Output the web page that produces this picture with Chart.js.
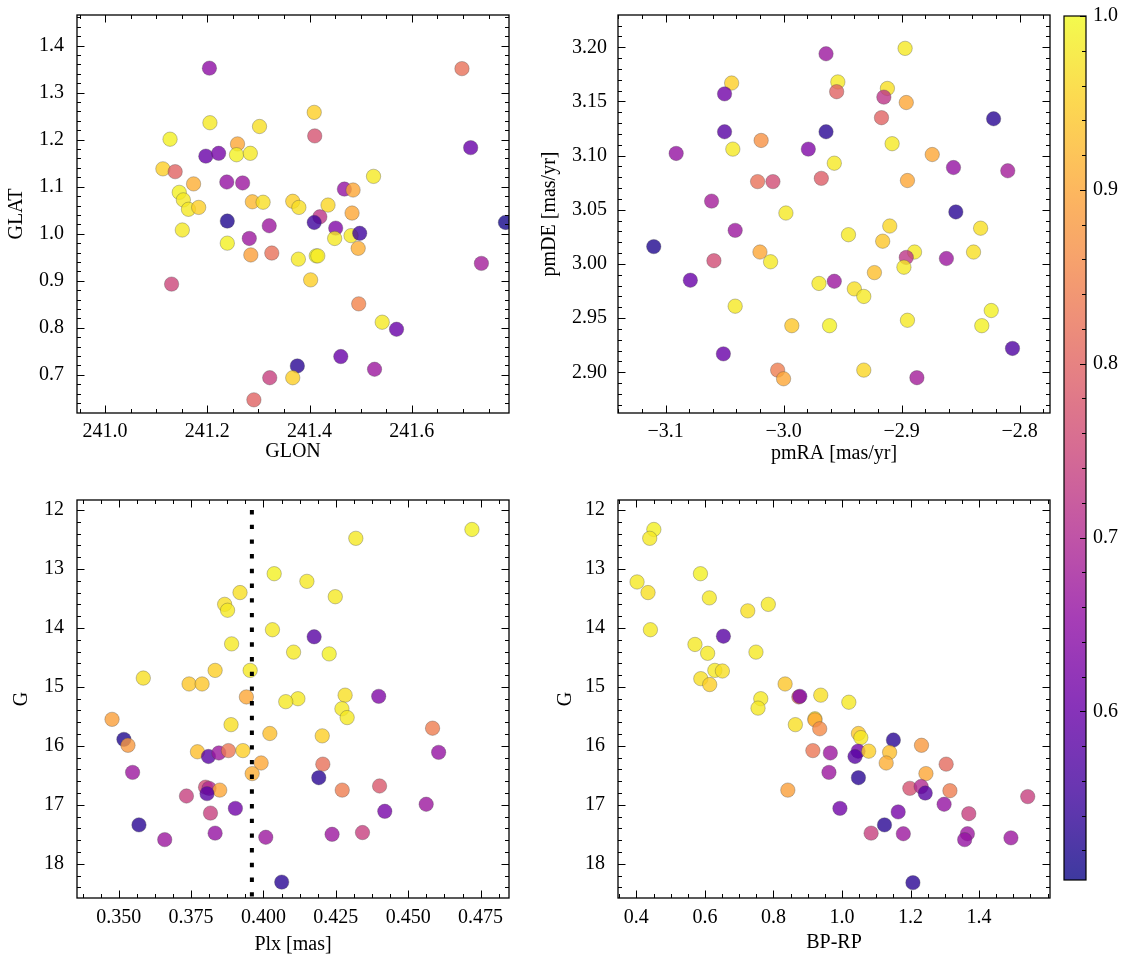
<!DOCTYPE html>
<html><head><meta charset="utf-8">
<script src="https://cdn.jsdelivr.net/npm/chart.js@4.4.1/dist/chart.umd.min.js"></script>
<style>
html,body{margin:0;padding:0;background:#fff;}
#wrap{position:relative;width:1133px;height:965px;background:#fff;}
canvas{position:absolute;}
</style></head><body>
<div id="wrap">
<canvas id="c1" width="520" height="470" style="left:0;top:0"></canvas>
<canvas id="c2" width="540" height="470" style="left:520px;top:0"></canvas>
<canvas id="c3" width="520" height="485" style="left:0;top:480px"></canvas>
<canvas id="c4" width="540" height="485" style="left:520px;top:480px"></canvas>
<canvas id="cb" width="93" height="965" style="left:1040px;top:0"></canvas>
</div>
<script>
// ---------- Panel 1: GLON / GLAT ----------
const glon = [241.204,241.698,241.409,241.205,241.302,241.127,241.410,241.715,241.259,241.197,241.222,241.257,241.284,241.113,241.137,241.525,241.238,241.269,241.173,241.145,241.153,241.468,241.485,241.163,241.183,241.288,241.309,241.367,241.379,241.436,241.483,241.420,241.239,241.409,241.783,241.151,241.321,241.451,241.449,241.481,241.498,241.282,241.239,241.495,241.285,241.326,241.378,241.413,241.416,241.402,241.736,241.130,241.496,241.542,241.570,241.461,241.376,241.527,241.322,241.367,241.291];
const glat = [1.352,1.351,1.258,1.236,1.228,1.201,1.208,1.183,1.191,1.165,1.171,1.168,1.171,1.138,1.132,1.122,1.110,1.108,1.106,1.088,1.072,1.095,1.093,1.052,1.056,1.068,1.067,1.069,1.056,1.061,1.044,1.036,1.027,1.024,1.024,1.008,1.017,1.012,0.990,0.996,1.001,0.990,0.980,0.969,0.955,0.959,0.946,0.953,0.953,0.902,0.937,0.893,0.851,0.812,0.797,0.739,0.719,0.712,0.694,0.694,0.647];
const prob1 = [0.65,0.82,0.95,0.98,0.97,0.99,0.77,0.60,0.90,0.60,0.62,0.99,0.98,0.95,0.80,0.98,0.66,0.67,0.91,0.99,0.98,0.66,0.90,0.98,0.95,0.92,0.97,0.95,0.97,0.96,0.90,0.72,0.52,0.55,0.51,0.98,0.67,0.63,0.98,0.98,0.55,0.67,0.99,0.91,0.89,0.82,0.98,1.00,0.98,0.95,0.68,0.75,0.85,0.98,0.60,0.60,0.53,0.67,0.74,0.95,0.80];

// ---------- Panel 2: pmRA / pmDE ----------
const pmra = [-2.897,-2.964,-3.044,-2.954,-2.912,-3.050,-2.955,-2.915,-2.896,-2.917,-2.822,-3.050,-2.964,-3.019,-2.908,-3.043,-2.979,-3.091,-2.874,-2.957,-2.856,-2.810,-3.022,-3.009,-2.968,-2.895,-3.061,-2.998,-2.854,-2.833,-2.910,-3.041,-2.945,-2.916,-3.110,-3.020,-2.889,-2.839,-2.896,-3.011,-3.059,-2.862,-2.898,-2.923,-3.079,-2.970,-2.957,-2.940,-2.932,-3.041,-2.824,-2.993,-2.961,-2.895,-2.832,-3.051,-2.806,-3.005,-3.000,-2.932,-2.887];
const pmde = [3.199,3.194,3.167,3.168,3.162,3.157,3.159,3.154,3.149,3.135,3.134,3.122,3.122,3.114,3.111,3.106,3.106,3.102,3.101,3.093,3.089,3.086,3.076,3.076,3.079,3.077,3.058,3.047,3.048,3.033,3.035,3.031,3.027,3.021,3.016,3.011,3.011,3.011,3.006,3.002,3.003,3.005,2.997,2.992,2.985,2.982,2.984,2.977,2.970,2.961,2.957,2.943,2.943,2.948,2.943,2.917,2.922,2.902,2.894,2.902,2.895];
const prob2 = [0.98,0.67,0.95,0.98,0.97,0.61,0.80,0.72,0.90,0.80,0.53,0.58,0.53,0.87,0.98,0.98,0.63,0.66,0.90,0.98,0.66,0.68,0.82,0.76,0.79,0.90,0.68,0.98,0.53,0.97,0.96,0.67,0.98,0.94,0.52,0.90,0.98,0.97,0.72,0.98,0.76,0.67,0.98,0.93,0.60,0.98,0.67,0.97,0.98,0.98,0.99,0.94,0.99,0.98,0.99,0.60,0.57,0.84,0.90,0.96,0.68];

// ---------- Panel 3: Plx / G ----------
const plx = [0.4720,0.4319,0.4037,0.4150,0.3919,0.4248,0.3866,0.3876,0.4031,0.4175,0.3890,0.4104,0.4227,0.3833,0.3954,0.3585,0.3743,0.3788,0.4282,0.4398,0.3941,0.4119,0.4077,0.4271,0.4289,0.3477,0.3888,0.4584,0.4022,0.4203,0.3518,0.3532,0.3772,0.3810,0.3846,0.3879,0.3929,0.4605,0.3992,0.4205,0.3548,0.3961,0.4191,0.4401,0.3800,0.3812,0.3849,0.4272,0.3805,0.3734,0.4562,0.3903,0.4419,0.3817,0.3570,0.3833,0.4342,0.4237,0.3659,0.4008,0.4063];
const gPlx = [12.33,12.48,13.08,13.21,13.40,13.47,13.60,13.70,14.03,14.15,14.27,14.41,14.44,14.72,14.72,14.85,14.95,14.95,15.14,15.16,15.17,15.20,15.25,15.37,15.52,15.55,15.64,15.70,15.79,15.83,15.89,15.99,16.10,16.18,16.12,16.08,16.08,16.11,16.29,16.31,16.45,16.47,16.54,16.68,16.70,16.72,16.75,16.75,16.81,16.85,16.99,17.06,17.11,17.14,17.34,17.48,17.47,17.50,17.59,17.55,18.31];
const prob3 = [0.99,0.98,0.99,0.98,0.97,0.98,0.97,0.98,0.98,0.58,0.98,0.98,0.99,0.95,0.98,0.97,0.94,0.94,0.97,0.63,0.90,0.98,0.98,0.98,0.98,0.89,0.97,0.84,0.93,0.95,0.52,0.88,0.93,0.58,0.67,0.83,0.95,0.66,0.90,0.82,0.67,0.91,0.53,0.78,0.76,0.70,0.90,0.84,0.58,0.74,0.67,0.61,0.62,0.74,0.53,0.66,0.74,0.67,0.67,0.67,0.53];
const plxCut = 0.396;

// ---------- Panel 4: BP-RP / G ----------
const bprp = [0.451,0.439,0.402,0.587,0.434,0.613,0.785,0.725,0.441,0.654,0.571,0.608,0.749,0.629,0.651,0.588,0.614,0.834,0.763,0.755,0.874,0.877,0.938,1.020,0.864,0.921,0.921,0.935,1.048,1.055,1.150,0.915,0.966,1.047,1.038,1.078,1.139,1.129,1.232,1.304,0.962,1.048,1.245,0.842,1.198,1.231,1.243,1.315,1.542,0.994,1.298,1.164,1.370,1.124,1.085,1.179,1.366,1.358,1.493,1.207];
const gCol = [12.33,12.48,13.22,13.08,13.40,13.49,13.60,13.71,14.03,14.14,14.28,14.43,14.41,14.72,14.73,14.86,14.96,14.95,15.20,15.36,15.17,15.16,15.14,15.26,15.64,15.54,15.56,15.71,15.79,15.86,15.90,16.08,16.12,16.09,16.18,16.09,16.11,16.29,15.99,16.31,16.45,16.54,16.47,16.75,16.72,16.69,16.80,16.76,16.86,17.06,16.99,17.12,17.15,17.34,17.48,17.49,17.49,17.59,17.56,18.32];
const prob4 = [0.99,0.98,0.98,0.99,0.97,0.98,0.98,0.97,0.98,0.58,0.98,0.98,0.98,0.98,0.97,0.97,0.95,0.94,0.98,0.98,0.82,0.63,0.97,0.98,0.97,0.97,0.90,0.86,0.94,0.98,0.53,0.83,0.67,0.61,0.58,0.95,0.93,0.91,0.88,0.81,0.67,0.53,0.90,0.89,0.77,0.70,0.58,0.84,0.74,0.61,0.66,0.62,0.74,0.53,0.74,0.67,0.67,0.66,0.67,0.53];

// ---------- Tick labels ----------
const glonTicks = [241.0,241.2,241.4,241.6];
const glatTicks = [0.7,0.8,0.9,1.0,1.1,1.2,1.3,1.4];
const pmraTicks = [-3.1,-3.0,-2.9,-2.8];
const pmdeTicks = [2.90,2.95,3.00,3.05,3.10,3.15,3.20];
const plxTicks = [0.350,0.375,0.400,0.425,0.450,0.475];
const gTicks = [12,13,14,15,16,17,18];
const bprpTicks = [0.4,0.6,0.8,1.0,1.2,1.4];
const cbarTicks = [0.6,0.7,0.8,0.9,1.0];
const cMin = 0.503, cMax = 1.0;

// ---------- colormap (plasma) ----------
const plasma = [[13,8,135],[65,4,157],[106,0,168],[143,13,164],[177,42,144],[204,71,120],[225,100,98],[242,132,75],[252,166,54],[252,206,37],[240,249,33]];
function cmap(v, a){
  let t = (v - cMin)/(cMax - cMin); t = Math.max(0, Math.min(1, t));
  const f = t*10, i = Math.min(9, Math.floor(f)), u = f - i;
  const c0 = plasma[i], c1 = plasma[i+1];
  const r = Math.round(c0[0]+(c1[0]-c0[0])*u), g = Math.round(c0[1]+(c1[1]-c0[1])*u), b = Math.round(c0[2]+(c1[2]-c0[2])*u);
  return `rgba(${r},${g},${b},${a})`;
}

const FONT = "'Liberation Serif', 'Times New Roman', serif";
Chart.defaults.font.family = FONT;
Chart.defaults.font.size = 20;
Chart.defaults.color = '#000';
Chart.defaults.animation = false;

function fmt(dec){ return v => Number(v).toFixed(dec).replace('-', '\u2212'); }

function minorVals(min, max, step){
  const out = []; const s = Math.ceil(min/step - 1e-9);
  for (let k = s; k*step <= max + 1e-9; k++) out.push(+(k*step).toFixed(6));
  return out;
}

const frameTicks = {
  id: 'frameTicks',
  afterDraw(chart, args, o) {
    if (!o || !o.on) return;
    const {ctx, chartArea: {left, right, top, bottom}} = chart;
    const xs = chart.scales.x, ys = chart.scales.y;
    ctx.save();
    ctx.strokeStyle = '#000'; ctx.lineWidth = 1;
    const seg = (x1,y1,x2,y2) => { ctx.beginPath(); ctx.moveTo(x1,y1); ctx.lineTo(x2,y2); ctx.stroke(); };
    const doX = (vals, len) => vals.forEach(v => { const p = Math.round(xs.getPixelForValue(v)) + 0.5; if (p < left || p > right) return; seg(p,bottom,p,bottom-len); seg(p,top,p,top+len); });
    const doY = (vals, len) => vals.forEach(v => { const p = Math.round(ys.getPixelForValue(v)) + 0.5; if (p < top || p > bottom) return; seg(left,p,left+len,p); seg(right,p,right-len,p); });
    doX(o.xMajor, 7.5); doX(minorVals(xs.min, xs.max, o.xMinor), 4);
    doY(o.yMajor, 7.5); doY(minorVals(ys.min, ys.max, o.yMinor), 4);
    ctx.lineWidth = 1.3;
    ctx.strokeRect(left, top, right-left, bottom-top);
    ctx.restore();
  }
};
Chart.register(frameTicks);

function makePanel(id, cfg){
  const pts = cfg.xs.map((x,i) => ({x, y: cfg.ys[i]}));
  const datasets = [{
    type: 'scatter',
    data: pts,
    pointRadius: 7.2,
    pointHoverRadius: 7.2,
    pointBackgroundColor: cfg.cs.map(c => cmap(c, 0.8)),
    pointBorderColor: 'rgba(70,70,70,0.55)',
    pointBorderWidth: 0.6,
    clip: 0,
    order: 2
  }];
  if (cfg.extra) datasets.push(cfg.extra);
  return new Chart(document.getElementById(id), {
    type: 'scatter',
    data: { datasets },
    options: {
      responsive: false, devicePixelRatio: 1,
      layout: { padding: cfg.pad },
      plugins: { legend: {display:false}, tooltip: {enabled:false},
        frameTicks: { on: true, xMajor: cfg.xTicks, yMajor: cfg.yTicks, xMinor: cfg.xMinor, yMinor: cfg.yMinor } },
      scales: {
        x: {
          type: 'linear', min: cfg.xMin, max: cfg.xMax,
          grid: { display: false, drawTicks: false },
          border: { display: false },
          ticks: { padding: cfg.xTickPad, maxRotation: 0, autoSkip: false, callback: fmt(cfg.xDec), font:{size:20} },
          afterBuildTicks: s => { s.ticks = cfg.xTicks.map(v => ({value: v})); },
          afterFit: s => { s.height = cfg.xH; s.paddingLeft = 0; s.paddingRight = 0; },
          title: { display: true, text: cfg.xTitle, font: {size: 20}, padding: {top: 0, bottom: cfg.xTitlePad} }
        },
        y: {
          type: 'linear', min: cfg.yMin, max: cfg.yMax, reverse: !!cfg.yRev,
          grid: { display: false, drawTicks: false },
          border: { display: false },
          ticks: { padding: cfg.yTickPad, autoSkip: false, callback: fmt(cfg.yDec), font:{size:20} },
          afterBuildTicks: s => { s.ticks = cfg.yTicks.map(v => ({value: v})); },
          afterFit: s => { s.width = cfg.yW; s.paddingTop = 0; s.paddingBottom = 0; },
          title: { display: true, text: cfg.yTitle, font: {size: 20}, padding: {top: cfg.yTitlePad, bottom: 0} }
        }
      }
    }
  });
}

makePanel('c1', {
  xs: glon, ys: glat, cs: prob1,
  xMin: 240.945, xMax: 241.79, yMin: 0.619, yMax: 1.465,
  xTicks: glonTicks, yTicks: glatTicks, xMinor: 0.05, yMinor: 0.02, xDec: 1, yDec: 1,
  xTitle: 'GLON', yTitle: 'GLAT',
  pad: {left: 0, top: 15, right: 11, bottom: 0}, xH: 57, yW: 77,
  xTickPad: 7, yTickPad: 13, xTitlePad: 6, yTitlePad: 5
});

makePanel('c2', {
  xs: pmra, ys: pmde, cs: prob2,
  xMin: -3.1403, xMax: -2.7742, yMin: 2.8624, yMax: 3.2298,
  xTicks: pmraTicks, yTicks: pmdeTicks, xMinor: 0.02, yMinor: 0.01, xDec: 1, yDec: 2,
  xTitle: 'pmRA [mas/yr]', yTitle: 'pmDE [mas/yr]',
  pad: {left: 0, top: 15, right: 10, bottom: 0}, xH: 57, yW: 98,
  xTickPad: 7, yTickPad: 11, xTitlePad: 4, yTitlePad: 18
});

makePanel('c3', {
  xs: plx, ys: gPlx, cs: prob3,
  xMin: 0.3356, xMax: 0.4848, yMin: 11.83, yMax: 18.58, yRev: true,
  xTicks: plxTicks, yTicks: gTicks, xMinor: 0.00625, yMinor: 0.2, xDec: 3, yDec: 0,
  xTitle: 'Plx [mas]', yTitle: 'G',
  pad: {left: 0, top: 20, right: 11, bottom: 0}, xH: 67, yW: 77,
  xTickPad: 8, yTickPad: 13, xTitlePad: 8, yTitlePad: 10,
  extra: {
    type: 'line', data: [{x: plxCut, y: 12}, {x: plxCut, y: 18.7}],
    borderColor: '#000', borderWidth: 4, borderDash: [4.4, 10.3], borderCapStyle: 'butt',
    pointRadius: 0, showLine: true, fill: false, clip: 0, order: 1
  }
});

makePanel('c4', {
  xs: bprp, ys: gCol, cs: prob4,
  xMin: 0.3464, xMax: 1.607, yMin: 11.83, yMax: 18.58, yRev: true,
  xTicks: bprpTicks, yTicks: gTicks, xMinor: 0.05, yMinor: 0.2, xDec: 1, yDec: 0,
  xTitle: 'BP-RP', yTitle: 'G',
  pad: {left: 0, top: 20, right: 10, bottom: 0}, xH: 67, yW: 98,
  xTickPad: 8, yTickPad: 13, xTitlePad: 10, yTitlePad: 34
});

// ---------- Colorbar ----------
const cbarFill = {
  id: 'cbarFill',
  beforeDatasetsDraw(chart, args, o) {
    if (!o || !o.on) return;
    const {ctx, chartArea: {left, right, top, bottom}} = chart;
    const ys = chart.scales.y;
    const y0 = ys.getPixelForValue(cMin), y1 = ys.getPixelForValue(cMax);
    const grad = ctx.createLinearGradient(0, y0, 0, y1);
    for (let k = 0; k <= 40; k++) { const v = cMin + (cMax - cMin)*k/40; grad.addColorStop(k/40, cmap(v, 0.8)); }
    ctx.save();
    ctx.fillStyle = grad; ctx.fillRect(left, top, right-left, bottom-top);
    ctx.strokeStyle = '#000'; ctx.lineWidth = 1;
    const seg = (x1,y1,x2,y2) => { ctx.beginPath(); ctx.moveTo(x1,y1); ctx.lineTo(x2,y2); ctx.stroke(); };
    cbarTicks.forEach(v => { const p = Math.round(ys.getPixelForValue(v)) + 0.5; seg(right, p, right-6, p); });
    minorVals(cMin, cMax, 0.02).forEach(v => { const p = Math.round(ys.getPixelForValue(v)) + 0.5; seg(right, p, right-4, p); });
    ctx.lineWidth = 1.2;
    ctx.strokeRect(left, top, right-left, bottom-top);
    ctx.restore();
  }
};
new Chart(document.getElementById('cb'), {
  type: 'scatter',
  data: { datasets: [{ data: [] }] },
  plugins: [cbarFill],
  options: {
    responsive: false, devicePixelRatio: 1,
    layout: { padding: {left: 24, top: 16, right: 0, bottom: 85} },
    plugins: { legend: {display:false}, tooltip: {enabled:false}, cbarFill: {on: true} },
    scales: {
      x: { type: 'linear', display: false, min: 0, max: 1 },
      y: {
        type: 'linear', position: 'right', min: cMin, max: cMax,
        grid: { display: false, drawTicks: false }, border: { display: false },
        ticks: { padding: 7, callback: fmt(1), font: {size: 20} },
        afterBuildTicks: s => { s.ticks = cbarTicks.map(v => ({value: v})); },
        afterFit: s => { s.width = 47; s.paddingTop = 0; s.paddingBottom = 0; }
      }
    }
  }
});
</script>
</body></html>
